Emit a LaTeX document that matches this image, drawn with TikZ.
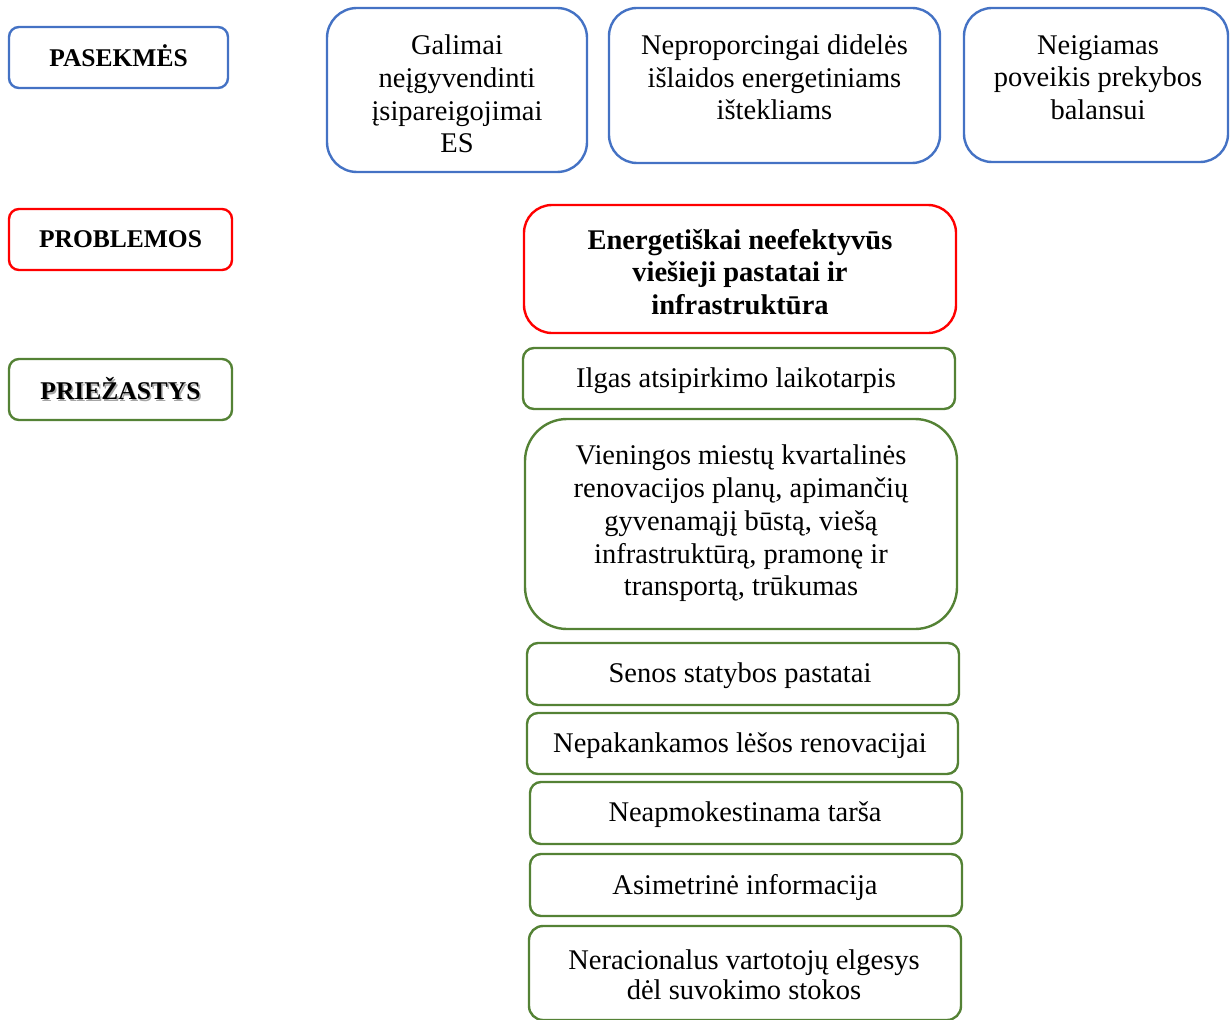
\documentclass[tikz,border=0pt]{standalone}
\usepackage{fontspec}
\setmainfont{Liberation Serif}
\definecolor{cblue}{HTML}{4472C4}
\definecolor{cred}{HTML}{FF0000}
\definecolor{cgreen}{HTML}{548235}
\begin{document}
\begin{tikzpicture}[x=1pt,y=-1pt,
  frame/.style={draw, line width=2.4pt, rectangle, inner sep=0pt},
  txt/.style={inner sep=0pt, align=center, yshift=-2pt, font=\fontsize{28.5}{32.7}\selectfont},
  mtxt/.style={inner sep=0pt, align=center, font=\fontsize{28.5}{32.7}\selectfont},
  btxt/.style={inner sep=0pt, align=center, font=\fontsize{28.5}{32.7}\selectfont\bfseries},
  ltxt/.style={inner sep=0pt, align=center, font=\fontsize{25.5}{30}\selectfont\bfseries}]
\useasboundingbox (0,0) rectangle (1230,1019);
% labels
\node[frame, draw=cblue, rounded corners=10pt, minimum width=219pt, minimum height=61pt] (lpas) at (118.5,57.5) {};
\node[ltxt] (tpas) at (118.5,56) {PASEKMĖS};
\node[frame, draw=cred, rounded corners=10pt, minimum width=223pt, minimum height=61pt] (lprob) at (120.5,239.5) {};
\node[ltxt] (tprob) at (120.5,239) {PROBLEMOS};
\node[frame, draw=cgreen, rounded corners=10pt, minimum width=223pt, minimum height=61pt] (lprie) at (120.5,389.5) {};
\node[ltxt, text=black!35] (tpries) at (122,390.5) {PRIEŽASTYS};
\node[ltxt] (tprie) at (120.5,389) {PRIEŽASTYS};
% consequences
\node[frame, draw=cblue, rounded corners=30pt, minimum width=260pt, minimum height=164pt] (c1) at (457,90) {};
\node[mtxt] (tc1) at (457,94) {Galimai\\neįgyvendinti\\įsipareigojimai\\ES};
\node[frame, draw=cblue, rounded corners=28pt, minimum width=331pt, minimum height=155pt] (c2) at (774.5,85.5) {};
\node[mtxt] (tc2) at (774.5,77.5) {Neproporcingai didelės\\išlaidos energetiniams\\ištekliams};
\node[frame, draw=cblue, rounded corners=28pt, minimum width=264pt, minimum height=154pt] (c3) at (1096,85) {};
\node[mtxt] (tc3) at (1098,77.5) {Neigiamas\\poveikis prekybos\\balansui};
% problem
\node[frame, draw=cred, rounded corners=28pt, minimum width=432pt, minimum height=128pt] (p) at (740,269) {};
\node[btxt] (tp) at (740,272) {Energetiškai neefektyvūs\\viešieji pastatai ir\\infrastruktūra};
% causes
\node[frame, draw=cgreen, rounded corners=11pt, minimum width=432pt, minimum height=61pt] (r1) at (739,378.5) {};
\node[txt] (tr1) at (736,378.5) {Ilgas atsipirkimo laikotarpis};
\node[frame, draw=cgreen, rounded corners=42pt, minimum width=432pt, minimum height=210pt] (r2) at (741,524) {};
\node[mtxt] (tr2) at (741,523.5) {Vieningos miestų kvartalinės\\renovacijos planų, apimančių\\gyvenamąjį būstą, viešą\\infrastruktūrą, pramonę ir\\transportą, trūkumas};
\node[frame, draw=cgreen, rounded corners=11pt, minimum width=432pt, minimum height=62pt] (r3) at (743,674) {};
\node[txt] (tr3) at (740,674) {Senos statybos pastatai};
\node[frame, draw=cgreen, rounded corners=11pt, minimum width=431pt, minimum height=61pt] (r4) at (742.5,743.5) {};
\node[txt] (tr4) at (740,743.5) {Nepakankamos lėšos renovacijai};
\node[frame, draw=cgreen, rounded corners=11pt, minimum width=432pt, minimum height=62pt] (r5) at (746,813) {};
\node[txt] (tr5) at (745,813) {Neapmokestinama tarša};
\node[frame, draw=cgreen, rounded corners=11pt, minimum width=432pt, minimum height=62pt] (r6) at (746,885) {};
\node[txt] (tr6) at (745,885) {Asimetrinė informacija};
\node[frame, draw=cgreen, rounded corners=14pt, minimum width=432pt, minimum height=94pt] (r7) at (745,973) {};
\node[mtxt, font=\fontsize{28.5}{30}\selectfont] (tr7) at (744,975) {Neracionalus vartotojų elgesys\\dėl suvokimo stokos};
\end{tikzpicture}
\end{document}
